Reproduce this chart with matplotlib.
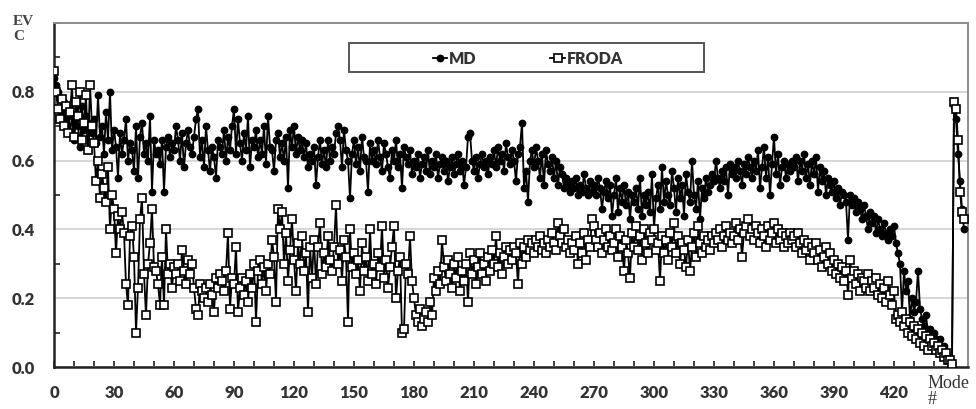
import numpy as np
import matplotlib
matplotlib.use("Agg")
import matplotlib.pyplot as plt
from matplotlib.patches import Rectangle
from matplotlib.ticker import MultipleLocator

series_names = ["MD", "FRODA"]
x_ticks = [0, 30, 60, 90, 120, 150, 180, 210, 240, 270, 300, 330, 360, 390, 420]
y_ticks = [0.0, 0.2, 0.4, 0.6, 0.8]
y_tick_labels = ["0.0", "0.2", "0.4", "0.6", "0.8"]

md = [
    0.84, 0.82, 0.80, 0.78, 0.74, 0.77, 0.70, 0.75, 0.68, 0.73,
    0.66, 0.72, 0.70, 0.64, 0.76, 0.69, 0.73, 0.63, 0.71, 0.68,
    0.72, 0.65, 0.79, 0.67, 0.70, 0.62, 0.74, 0.66, 0.80, 0.63,
    0.69, 0.64, 0.55, 0.68, 0.62, 0.66, 0.72, 0.60, 0.65, 0.63,
    0.57, 0.70, 0.55, 0.67, 0.71, 0.62, 0.65, 0.60, 0.73, 0.51,
    0.66, 0.62, 0.63, 0.59, 0.66, 0.51, 0.64, 0.67, 0.61, 0.65,
    0.63, 0.70, 0.66, 0.60, 0.68, 0.58, 0.65, 0.69, 0.64, 0.62,
    0.67, 0.72, 0.75, 0.61, 0.66, 0.58, 0.70, 0.63, 0.57, 0.64,
    0.61, 0.55, 0.66, 0.64, 0.62, 0.69, 0.60, 0.67, 0.63, 0.70,
    0.75, 0.62, 0.72, 0.65, 0.60, 0.68, 0.63, 0.73, 0.58, 0.66,
    0.64, 0.69, 0.61, 0.66, 0.62, 0.70, 0.59, 0.73, 0.64, 0.63,
    0.57, 0.66, 0.68, 0.61, 0.65, 0.60, 0.67, 0.52, 0.69, 0.64,
    0.70, 0.62, 0.67, 0.63, 0.66, 0.61, 0.65, 0.58, 0.62, 0.60,
    0.64, 0.53, 0.61, 0.66, 0.59, 0.63, 0.58, 0.66, 0.60, 0.64,
    0.62, 0.68, 0.70, 0.66, 0.58, 0.69, 0.63, 0.60, 0.49, 0.62,
    0.66, 0.59, 0.64, 0.57, 0.67, 0.61, 0.60, 0.51, 0.65, 0.60,
    0.63, 0.59, 0.66, 0.61, 0.57, 0.65, 0.62, 0.58, 0.55, 0.63,
    0.60, 0.66, 0.58, 0.62, 0.52, 0.64, 0.61, 0.59, 0.63, 0.56,
    0.60, 0.58, 0.62, 0.55, 0.59, 0.61, 0.57, 0.63, 0.56, 0.60,
    0.58, 0.62, 0.55, 0.59, 0.61, 0.57, 0.60, 0.54, 0.58, 0.61,
    0.56, 0.59, 0.62, 0.57, 0.60, 0.53, 0.58, 0.67, 0.68, 0.60,
    0.57, 0.61, 0.55, 0.59, 0.62, 0.58, 0.60, 0.56, 0.61, 0.59,
    0.63, 0.58, 0.64, 0.60, 0.62, 0.57, 0.65, 0.61, 0.59, 0.63,
    0.60, 0.54, 0.62, 0.64, 0.71, 0.52, 0.57, 0.48, 0.60, 0.63,
    0.58, 0.64, 0.60, 0.55, 0.62, 0.53, 0.63, 0.59, 0.57, 0.61,
    0.55, 0.60, 0.53, 0.58, 0.56, 0.52, 0.55, 0.53, 0.51, 0.54,
    0.52, 0.55, 0.50, 0.53, 0.51, 0.56, 0.52, 0.50, 0.54, 0.51,
    0.53, 0.50, 0.55, 0.52, 0.46, 0.51, 0.54, 0.49, 0.53, 0.44,
    0.50, 0.55, 0.45, 0.52, 0.48, 0.53, 0.47, 0.51, 0.43, 0.50,
    0.48, 0.52, 0.46, 0.55, 0.44, 0.50, 0.47, 0.51, 0.45, 0.56,
    0.40, 0.49, 0.53, 0.46, 0.58, 0.48, 0.54, 0.50, 0.47, 0.57,
    0.52, 0.45, 0.55, 0.49, 0.53, 0.44, 0.56, 0.51, 0.48, 0.60,
    0.50, 0.46, 0.54, 0.43, 0.52, 0.49, 0.55, 0.51, 0.53, 0.56,
    0.54, 0.60, 0.55, 0.52, 0.57, 0.54, 0.58, 0.50, 0.59, 0.56,
    0.58, 0.55, 0.60, 0.57, 0.53, 0.59, 0.56, 0.61, 0.58, 0.55,
    0.60, 0.57, 0.63, 0.52, 0.58, 0.64, 0.55, 0.61, 0.50, 0.59,
    0.67, 0.56, 0.62, 0.53, 0.58, 0.60, 0.55, 0.59, 0.57, 0.60,
    0.58, 0.61, 0.54, 0.60, 0.57, 0.62, 0.55, 0.59, 0.53, 0.60,
    0.56, 0.61, 0.51, 0.58, 0.54, 0.57, 0.50, 0.55, 0.53, 0.51,
    0.54, 0.49, 0.52, 0.47, 0.51, 0.50, 0.48, 0.37, 0.50, 0.47,
    0.49, 0.45, 0.48, 0.46, 0.43, 0.47, 0.44, 0.40, 0.45, 0.42,
    0.44, 0.39, 0.43, 0.40, 0.38, 0.42, 0.39, 0.37, 0.40, 0.38,
    0.41, 0.36, 0.33, 0.30, 0.16, 0.28, 0.22, 0.25, 0.14, 0.20,
    0.16, 0.19, 0.28, 0.17, 0.14, 0.12, 0.15, 0.10, 0.11, 0.09,
    0.10, 0.08, 0.07, 0.08, 0.05, 0.06, 0.04, 0.03, 0.02, 0.01,
    0.76, 0.72, 0.62, 0.54, 0.46, 0.40,
]

froda = [
    0.86, 0.80, 0.75, 0.72, 0.78, 0.70, 0.76, 0.68, 0.74, 0.82,
    0.67, 0.77, 0.73, 0.80, 0.66, 0.71, 0.79, 0.63, 0.82, 0.70,
    0.65, 0.54, 0.60, 0.49, 0.56, 0.52, 0.48, 0.58, 0.40, 0.50,
    0.46, 0.33, 0.44, 0.40, 0.45, 0.39, 0.24, 0.18, 0.38, 0.41,
    0.32, 0.10, 0.23, 0.43, 0.49, 0.27, 0.15, 0.30, 0.36, 0.46,
    0.29, 0.28, 0.24, 0.18, 0.32, 0.18, 0.40, 0.27, 0.30, 0.23,
    0.29, 0.27, 0.30, 0.25, 0.34, 0.28, 0.24, 0.31, 0.27, 0.30,
    0.23, 0.17, 0.15, 0.24, 0.22, 0.20, 0.23, 0.19, 0.24, 0.21,
    0.16, 0.26, 0.23, 0.27, 0.25, 0.22, 0.28, 0.39, 0.17, 0.26,
    0.24, 0.35, 0.16, 0.23, 0.26, 0.21, 0.25, 0.19, 0.27, 0.23,
    0.30, 0.13, 0.28, 0.31, 0.24, 0.29, 0.22, 0.30, 0.27, 0.37,
    0.32, 0.19, 0.46, 0.40, 0.45, 0.30, 0.39, 0.25, 0.34, 0.43,
    0.31, 0.22, 0.36, 0.30, 0.38, 0.28, 0.33, 0.16, 0.35, 0.26,
    0.37, 0.24, 0.35, 0.42, 0.27, 0.33, 0.29, 0.38, 0.31, 0.28,
    0.35, 0.47, 0.30, 0.34, 0.25, 0.37, 0.32, 0.13, 0.40, 0.29,
    0.33, 0.27, 0.31, 0.22, 0.36, 0.28, 0.32, 0.25, 0.40, 0.27,
    0.30, 0.24, 0.33, 0.29, 0.41, 0.26, 0.31, 0.23, 0.29, 0.35,
    0.41, 0.20, 0.28, 0.32, 0.10, 0.11, 0.30, 0.27, 0.38, 0.25,
    0.20, 0.15, 0.13, 0.17, 0.12, 0.14, 0.16, 0.13, 0.19, 0.15,
    0.26, 0.22, 0.28, 0.24, 0.37, 0.29, 0.25, 0.31, 0.27, 0.23,
    0.30, 0.26, 0.32, 0.22, 0.28, 0.25, 0.30, 0.19, 0.33, 0.27,
    0.31, 0.24, 0.29, 0.33, 0.27, 0.30, 0.25, 0.32, 0.28, 0.34,
    0.30, 0.38, 0.29, 0.33, 0.27, 0.32, 0.35, 0.30, 0.34, 0.31,
    0.35, 0.33, 0.24, 0.36, 0.30, 0.35, 0.32, 0.37, 0.34, 0.36,
    0.33, 0.37, 0.35, 0.38, 0.34, 0.36, 0.33, 0.37, 0.35, 0.39,
    0.36, 0.34, 0.42, 0.38, 0.36, 0.40, 0.35, 0.37, 0.33, 0.36,
    0.34, 0.38, 0.30, 0.36, 0.33, 0.39, 0.31, 0.37, 0.35, 0.43,
    0.41, 0.37, 0.35, 0.39, 0.33, 0.37, 0.40, 0.35, 0.38, 0.34,
    0.36, 0.40, 0.32, 0.38, 0.35, 0.28, 0.37, 0.33, 0.26, 0.39,
    0.35, 0.41, 0.34, 0.38, 0.31, 0.40, 0.36, 0.33, 0.39, 0.37,
    0.40, 0.34, 0.36, 0.25, 0.38, 0.33, 0.37, 0.31, 0.39, 0.35,
    0.42, 0.33, 0.38, 0.30, 0.36, 0.34, 0.29, 0.37, 0.28, 0.35,
    0.39, 0.32, 0.41, 0.36, 0.33, 0.38, 0.35, 0.37, 0.34, 0.38,
    0.36, 0.39, 0.37, 0.40, 0.35, 0.38, 0.41, 0.37, 0.39, 0.36,
    0.38, 0.42, 0.37, 0.40, 0.32, 0.39, 0.41, 0.43, 0.38, 0.40,
    0.37, 0.41, 0.39, 0.36, 0.40, 0.38, 0.35, 0.41, 0.37, 0.39,
    0.42, 0.36, 0.40, 0.37, 0.39, 0.35, 0.38, 0.36, 0.39, 0.37,
    0.38, 0.35, 0.39, 0.36, 0.33, 0.37, 0.34, 0.36, 0.31, 0.35,
    0.33, 0.36, 0.31, 0.34, 0.29, 0.32, 0.35, 0.30, 0.33, 0.28,
    0.31, 0.27, 0.30, 0.26, 0.29, 0.25, 0.28, 0.21, 0.31, 0.26,
    0.28, 0.24, 0.27, 0.22, 0.26, 0.25, 0.23, 0.27, 0.22, 0.25,
    0.23, 0.26, 0.21, 0.24, 0.20, 0.23, 0.19, 0.25, 0.21, 0.18,
    0.22, 0.14, 0.15, 0.13, 0.16, 0.12, 0.14, 0.10, 0.13, 0.09,
    0.12, 0.08, 0.11, 0.07, 0.10, 0.06, 0.09, 0.05, 0.08, 0.06,
    0.07, 0.05, 0.06, 0.04, 0.05, 0.03, 0.04, 0.02, 0.02, 0.01,
    0.77, 0.75, 0.66, 0.51, 0.45, 0.43,
]

modes_md = np.arange(len(md))
modes_froda = np.arange(len(froda))

W, H = 976, 409
fig = plt.figure(figsize=(W / 100, H / 100), dpi=100)
ax = fig.add_axes([54 / W, 1 - 367 / H, (968 - 54) / W, (367 - 23) / H])

ax.plot(modes_md, md, color="black", lw=1.3, marker="o", markersize=4.6,
        markerfacecolor="black", markeredgecolor="black", label=series_names[0], zorder=3)
ax.plot(modes_froda, froda, color="black", lw=1.3, marker="s", markersize=5.2,
        markerfacecolor="white", markeredgecolor="black", markeredgewidth=1.2,
        label=series_names[1], zorder=4)

ax.set_xlim(0, 457)
ax.set_ylim(0, 1.0)
ax.set_xticks(x_ticks)
ax.xaxis.set_minor_locator(MultipleLocator(10))
ax.set_yticks(y_ticks)
ax.set_yticklabels(y_tick_labels)
ax.yaxis.set_minor_locator(MultipleLocator(0.1))

for lab in ax.get_xticklabels() + ax.get_yticklabels():
    lab.set_fontfamily("Lato")
    lab.set_fontweight("heavy")
    lab.set_fontsize(12)
    lab.set_color("#333333")

ax.tick_params(axis="x", which="both", direction="in", length=4, width=1.2, pad=13, color="#222222")
ax.tick_params(axis="y", which="major", length=0, pad=14)
ax.tick_params(axis="y", which="minor", direction="in", length=4, width=1.2, color="#222222")

ax.grid(axis="y", which="major", color="#d6d6d6", lw=1.4, zorder=0)
ax.set_axisbelow(True)
for s in ["top", "right"]:
    ax.spines[s].set_color("#8c8c8c")
    ax.spines[s].set_linewidth(1.4)
for s in ["left", "bottom"]:
    ax.spines[s].set_color("#222222")
    ax.spines[s].set_linewidth(1.8)

# legend box
fig.patches.append(Rectangle((349 / W, 1 - 72 / H), (704 - 349) / W, 29 / H,
                             transform=fig.transFigure, fill=True, facecolor="white",
                             edgecolor="#555555", lw=1.4, zorder=5))
leg = fig.legend(loc="center", bbox_to_anchor=(528 / W, 1 - 59 / H), ncol=2, frameon=False,
                 handlelength=0.9, handletextpad=0.15, columnspacing=4.6,
                 prop=dict(family="Lato", weight="heavy", size=11.5))
leg.set_zorder(6)
for t in leg.get_texts():
    t.set_color("#333333")

fig.text(13 / W, 1 - 15 / H, "EV\nC", ha="left", va="top", family="Liberation Serif",
         weight="bold", fontsize=11, color="#444444", linespacing=1.15)
fig.text(928 / W, 1 - 375 / H, "Mode\n#", ha="left", va="top", family="Liberation Serif",
         fontsize=13, color="#333333", linespacing=0.9)

fig.savefig("out.png", dpi=100, facecolor="white")
